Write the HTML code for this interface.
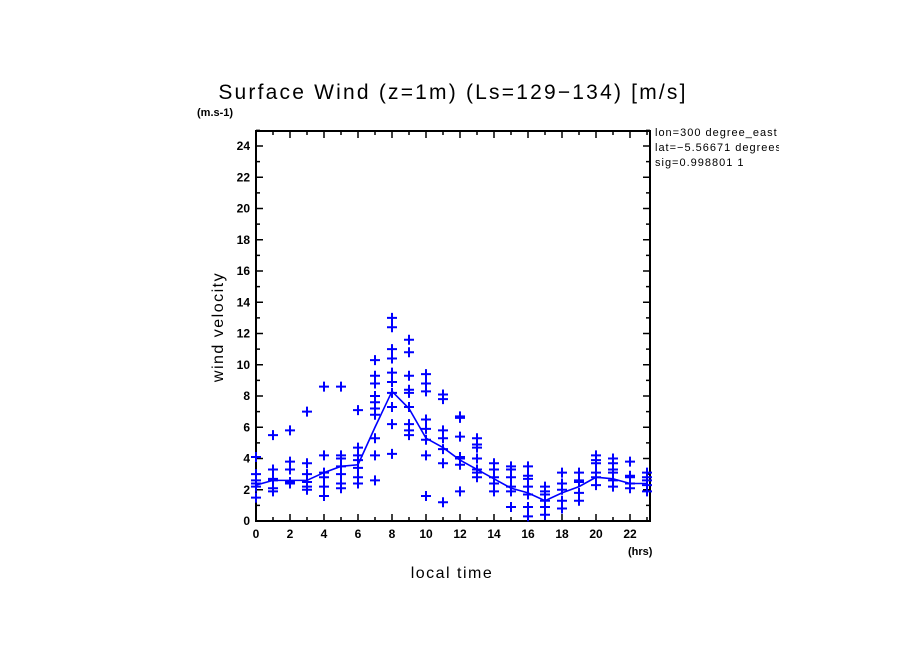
<!DOCTYPE html>
<html><head><meta charset="utf-8"><style>
body{margin:0;background:#fff}
svg{display:block;font-family:"Liberation Sans",sans-serif}
</style></head><body>
<svg id="chart" width="904" height="654" viewBox="0 0 904 654">
<rect width="904" height="654" fill="#fff"/>
<text x="453" y="99" font-size="21" letter-spacing="2.2" text-anchor="middle">Surface Wind (z=1m) (Ls=129−134) [m/s]</text>
<text x="197" y="116" font-size="11" font-weight="bold">(m.s-1)</text>
<svg x="650" y="120" width="129" height="60" overflow="hidden">
<rect x="0" y="0" width="129" height="60" fill="none"/>
<text x="5" y="16" font-size="11" letter-spacing="1">lon=300 degree_east</text>
<text x="5" y="31" font-size="11" letter-spacing="1">lat=−5.56671 degrees</text>
<text x="5" y="46" font-size="11" letter-spacing="1">sig=0.998801 1</text>
</svg>
<g id="axes"></g>
<g id="marks"></g>
<text x="628" y="555" font-size="11" font-weight="bold">(hrs)</text>
<text x="452" y="578" font-size="16" letter-spacing="1.5" text-anchor="middle">local time</text>
<text x="0" y="0" font-size="16" letter-spacing="1.5" text-anchor="middle" transform="translate(223,327) rotate(-90)">wind velocity</text>
</svg>
<script>
const hours=[0,1,2,3,4,5,6,7,8,9,10,11,12,13,14,15,16,17,18,19,20,21,22,23];
const meanValues=[2.3,2.6,2.6,2.6,3.1,3.5,3.6,6.0,8.3,7.2,5.3,4.7,3.9,3.3,2.7,2.1,1.8,1.3,1.8,2.2,2.8,2.7,2.4,2.4];
const samples=[
[4.1,3.0,2.6,2.4,2.2,1.5],
[5.5,3.3,2.7,2.6,2.1,1.9],
[5.8,3.8,3.3,2.5,2.4],
[7.0,3.7,3.0,2.5,2.2,2.0],
[8.6,4.2,3.1,2.8,2.2,1.6],
[8.6,4.2,4.0,3.5,3.0,2.4,2.1],
[7.1,4.7,4.2,3.9,3.4,2.8,2.4],
[10.3,9.3,8.8,8.0,7.6,7.2,6.8,5.3,4.2,2.6],
[13.0,12.4,11.0,10.4,9.5,8.9,8.2,7.3,6.2,4.3],
[11.6,10.8,9.3,8.4,8.2,7.3,6.2,5.8,5.5],
[9.4,8.8,8.3,6.5,5.9,5.2,4.2,1.6],
[8.1,7.8,5.8,5.3,4.6,3.7,1.2],
[6.7,6.6,5.4,4.1,4.0,3.6,1.9],
[5.3,4.9,4.7,4.0,3.3,3.1,2.8],
[3.7,3.3,2.8,2.4,1.9],
[3.5,3.3,2.8,2.2,1.9,0.9],
[3.5,2.9,2.7,2.2,1.7,0.9,0.3],
[2.2,1.9,1.7,1.3,0.9,0.4],
[3.1,2.4,2.0,1.3,0.8],
[3.1,2.6,2.5,1.8,1.3],
[4.2,3.9,3.7,3.1,2.8,2.3],
[4.0,3.7,3.3,3.1,2.6,2.2],
[3.8,2.9,2.8,2.4,2.1],
[3.1,2.8,2.6,2.3,1.9]];
const xTickLabels=[0,2,4,6,8,10,12,14,16,18,20,22];
const yTickLabels=[0,2,4,6,8,10,12,14,16,18,20,22,24];

const NS="http://www.w3.org/2000/svg";
const X0=256,X1=650,Y0=521,Y1=131;
const xs=h=>X0+h*17;
const ys=v=>Y0-v*15.625;
function mk(tag,attrs,parent){const e=document.createElementNS(NS,tag);for(const k in attrs)e.setAttribute(k,attrs[k]);parent.appendChild(e);return e;}
const ax=document.getElementById('axes'),mg=document.getElementById('marks');
const frame=mk('rect',{x:X0,y:Y1,width:X1-X0,height:Y0-Y1,fill:'none',stroke:'#000','stroke-width':2},ax);


for(let h=0;h<=23;h++){
  const big=h%2===0;
  mk('line',{x1:xs(h),x2:xs(h),y1:Y0,y2:Y0-(big?7:4),stroke:'#000','stroke-width':1.5},ax);
  mk('line',{x1:xs(h),x2:xs(h),y1:Y1,y2:Y1+(big?7:4),stroke:'#000','stroke-width':1.5},ax);
}
xTickLabels.forEach(v=>{
  const t=mk('text',{x:xs(v),y:Y0+17,'font-size':12,'text-anchor':'middle','font-weight':'bold'},ax);
  t.textContent=v;
  
  
});
for(let v=0;v<=25;v++){
  const big=v%2===0;
  mk('line',{x1:X0,x2:X0+(big?7:4),y1:ys(v),y2:ys(v),stroke:'#000','stroke-width':1.5},ax);
  mk('line',{x1:X1,x2:X1-(big?7:4),y1:ys(v),y2:ys(v),stroke:'#000','stroke-width':1.5},ax);
}
yTickLabels.forEach(v=>{
  const t=mk('text',{x:X0-6,y:ys(v)+4,'font-size':12,'text-anchor':'end','font-weight':'bold'},ax);
  t.textContent=v;
  
  
});
samples.forEach((arr,i)=>{
  arr.forEach(v=>{
    const x=xs(hours[i]),y=ys(v);
    const p=mk('path',{d:`M${x-5},${y}H${x+5}M${x},${y-5}V${y+5}`,stroke:'#0000ff','stroke-width':2,fill:'none'},mg);
    
    
  });
});
const line=mk('polyline',{points:hours.map((h,i)=>xs(h)+','+ys(meanValues[i])).join(' '),fill:'none',stroke:'#0000ff','stroke-width':1.6},mg);


</script>
</body></html>
